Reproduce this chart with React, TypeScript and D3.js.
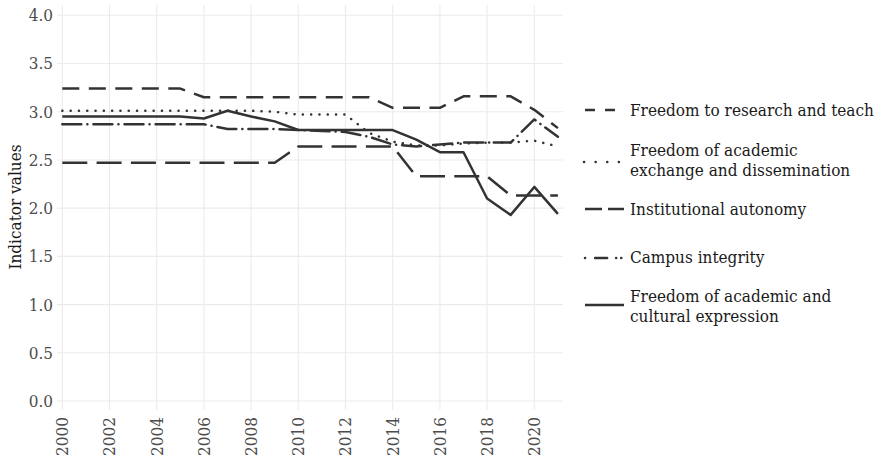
import React from "react";
import * as d3 from "d3";

const years = [2000, 2001, 2002, 2003, 2004, 2005, 2006, 2007, 2008, 2009, 2010, 2011, 2012, 2013, 2014, 2015, 2016, 2017, 2018, 2019, 2020, 2021];

const research = [3.24, 3.24, 3.24, 3.24, 3.24, 3.24, 3.15, 3.15, 3.15, 3.15, 3.15, 3.15, 3.15, 3.15, 3.04, 3.04, 3.04, 3.16, 3.16, 3.16, 3.02, 2.83];
const exchange = [3.01, 3.01, 3.01, 3.01, 3.01, 3.01, 3.01, 3.01, 3.01, 3.0, 2.97, 2.97, 2.97, 2.78, 2.69, 2.65, 2.65, 2.67, 2.68, 2.68, 2.7, 2.64];
const autonomy = [2.47, 2.47, 2.47, 2.47, 2.47, 2.47, 2.47, 2.47, 2.47, 2.47, 2.64, 2.64, 2.64, 2.64, 2.64, 2.33, 2.33, 2.33, 2.33, 2.13, 2.13, 2.13];
const campus = [2.87, 2.87, 2.87, 2.87, 2.87, 2.87, 2.87, 2.82, 2.82, 2.82, 2.81, 2.8, 2.79, 2.74, 2.66, 2.64, 2.66, 2.68, 2.68, 2.68, 2.92, 2.74];
const expression = [2.95, 2.95, 2.95, 2.95, 2.95, 2.95, 2.93, 3.01, 2.95, 2.9, 2.81, 2.81, 2.81, 2.81, 2.81, 2.71, 2.58, 2.58, 2.1, 1.93, 2.22, 1.94];

const seriesNames = [
  ["Freedom to research and teach"],
  ["Freedom of academic", "exchange and dissemination"],
  ["Institutional autonomy"],
  ["Campus integrity"],
  ["Freedom of academic and", "cultural expression"],
];

const yTicks = [0, 0.5, 1, 1.5, 2, 2.5, 3, 3.5, 4];
const xTicks = [2000, 2002, 2004, 2006, 2008, 2010, 2012, 2014, 2016, 2018, 2020];

const dashes = ["17,9.5", "0.1,8.2", "25,9.3", "19,6,0.1,6", ""];
const legendKeyY = [110, 162, 209, 258, 305];
const legendTextY = [[116], [156, 176], [215], [263], [302, 322]];

export default function App() {
  const W = 876, H = 463;
  const x = d3.scaleLinear().domain([2000, 2020]).range([62.3, 534.3]);
  const y = d3.scaleLinear().domain([0, 4]).range([401, 15.3]);
  const panelRight = 563;
  const panelTop = 5;
  const allSeries = [research, exchange, autonomy, campus, expression];
  const line = d3
    .line<number>()
    .x((_, i) => x(years[i]))
    .y((d) => y(d));
  const font = "'DejaVu Serif', serif";
  const grid = "#ebebeb";
  const lineColor = "#333333";
  const fs = 17;
  const txtStyle = { fontStretch: "condensed" as const };

  return (
    <svg width={W} height={H} style={{ position: "absolute", left: 0, top: 0, background: "#fff" }}>
      {yTicks.map((t) => (
        <g key={"y" + t}>
          <line x1={57} x2={panelRight} y1={y(t)} y2={y(t)} stroke={grid} strokeWidth={1.1} />
          <text x={53} y={y(t)} dy="0.35em" textAnchor="end" fontFamily={font} fontSize={fs} fill="#4d4d4d" style={txtStyle}>
            {t.toFixed(1)}
          </text>
        </g>
      ))}
      {xTicks.map((t) => (
        <g key={"x" + t}>
          <line x1={x(t)} x2={x(t)} y1={panelTop} y2={410} stroke={grid} strokeWidth={1.1} />
          <text
            transform={`translate(${x(t)},${417}) rotate(-90)`}
            dy="0.35em"
            textAnchor="end"
            fontFamily={font}
            fontSize={fs}
            fill="#4d4d4d"
            style={txtStyle}
          >
            {t}
          </text>
        </g>
      ))}
      <text
        transform={`translate(15,${207}) rotate(-90)`}
        dy="0.35em"
        textAnchor="middle"
        fontFamily={font}
        fontSize={fs}
        fill="#1a1a1a"
        style={txtStyle}
      >
        Indicator values
      </text>
      {allSeries.map((s, i) => (
        <path
          key={"s" + i}
          d={line(s) || ""}
          fill="none"
          stroke={lineColor}
          strokeWidth={2.5}
          strokeDasharray={dashes[i] || undefined}
          strokeLinecap={i === 1 || i === 3 ? "round" : "butt"}
          strokeLinejoin="round"
        />
      ))}
      {seriesNames.map((names, i) => (
        <g key={"l" + i}>
          <line
            x1={i === 1 ? 584 : 585}
            x2={624}
            y1={legendKeyY[i]}
            y2={legendKeyY[i]}
            stroke={lineColor}
            strokeWidth={2.5}
            strokeDasharray={i === 0 ? "10,10" : i === 2 ? "17,6" : i === 3 ? "0.1,10,12,9,0.1,5" : i === 1 ? "0.1,11.5" : undefined}
            strokeLinecap={i === 1 || i === 3 ? "round" : "butt"}
          />
          {names.map((n, j) => (
            <text key={j} x={630} y={legendTextY[i][j]} fontFamily={font} fontSize={fs} fill="#1a1a1a" style={txtStyle}>
              {n}
            </text>
          ))}
        </g>
      ))}
    </svg>
  );
}
